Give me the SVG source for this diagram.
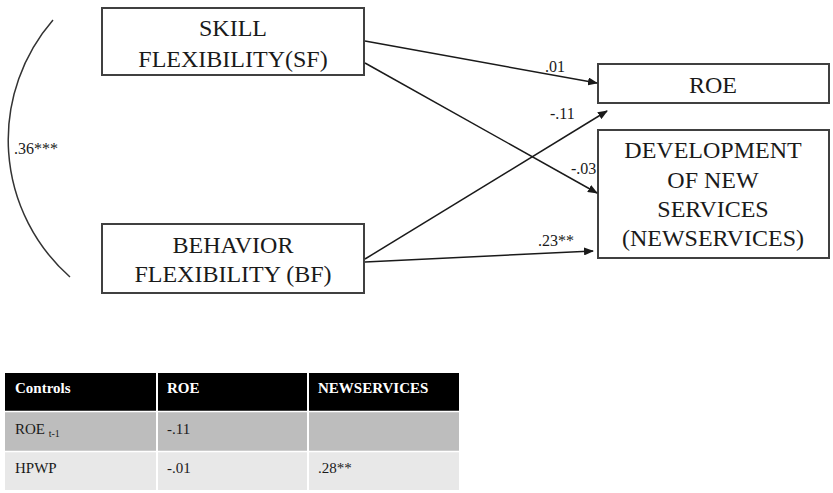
<svg xmlns="http://www.w3.org/2000/svg" width="833" height="493" viewBox="0 0 833 493" font-family="'Liberation Serif', 'Times New Roman', 'DejaVu Serif', serif">
<defs>
<marker id="ah" markerWidth="10" markerHeight="8" refX="9" refY="4" orient="auto" markerUnits="userSpaceOnUse">
<path d="M0,0 L10,4 L0,8 Z" fill="#1a1a1a"/>
</marker>
</defs>
<rect width="833" height="493" fill="#fff"/>

<g font-size="24" text-anchor="middle" fill="#1a1a1a">
<g id="sf">
<rect x="102" y="8" width="262" height="67" fill="#fff" stroke="#404040" stroke-width="2"/>
<text x="233" y="36">SKILL</text>
<text x="233" y="67">FLEXIBILITY(SF)</text>
</g>
<g id="bf">
<rect x="102" y="224" width="262" height="69" fill="#fff" stroke="#404040" stroke-width="2"/>
<text x="233" y="253">BEHAVIOR</text>
<text x="233" y="282">FLEXIBILITY (BF)</text>
</g>
<g id="roe">
<rect x="598" y="64" width="231" height="39" fill="#fff" stroke="#404040" stroke-width="2"/>
<text x="713" y="93">ROE</text>
</g>
<g id="newservices">
<rect x="598" y="130" width="231" height="128" fill="#fff" stroke="#404040" stroke-width="2"/>
<text x="713" y="158">DEVELOPMENT</text>
<text x="713" y="188">OF NEW</text>
<text x="713" y="217">SERVICES</text>
<text x="713" y="246">(NEWSERVICES)</text>
</g>
</g>

<g id="connectors" stroke="#1a1a1a" stroke-width="1.5" fill="none">
<path d="M53,20 A183,183 0 0 0 70,277" stroke="#333"/>
<line x1="365" y1="41" x2="597" y2="83" marker-end="url(#ah)"/>
<line x1="365" y1="63" x2="597" y2="193" marker-end="url(#ah)"/>
<line x1="365" y1="259" x2="607" y2="111" marker-end="url(#ah)"/>
<line x1="365" y1="262" x2="593" y2="251" marker-end="url(#ah)"/>
</g>

<g id="labels" font-size="16" fill="#1a1a1a">
<text x="14" y="154">.36***</text>
<text x="545" y="72">.01</text>
<text x="550" y="119">-.11</text>
<text x="571" y="174">-.03</text>
<text x="538" y="246">.23**</text>
</g>

<g id="table" font-size="15">
<rect x="5" y="373" width="454" height="38" fill="#000"/>
<rect x="5" y="412" width="454" height="39" fill="#bdbdbd"/>
<rect x="5" y="452" width="454" height="38" fill="#e8e8e8"/>
<g stroke="#fff">
<line x1="157" y1="373" x2="157" y2="490" stroke-width="2"/>
<line x1="308" y1="373" x2="308" y2="490" stroke-width="2"/>
<line x1="5" y1="411.5" x2="459" y2="411.5" stroke-width="1.5"/>
<line x1="5" y1="451.5" x2="459" y2="451.5" stroke-width="1.5"/>
</g>
<g font-weight="bold" fill="#fff">
<text x="15" y="393">Controls</text>
<text x="167" y="393">ROE</text>
<text x="318" y="393">NEWSERVICES</text>
</g>
<g fill="#1a1a1a">
<text x="15" y="434">ROE <tspan font-size="10" dy="3">t-1</tspan></text>
<text x="167" y="434">-.11</text>
<text x="15" y="473">HPWP</text>
<text x="167" y="473">-.01</text>
<text x="318" y="473">.28**</text>
</g>
</g>
</svg>
